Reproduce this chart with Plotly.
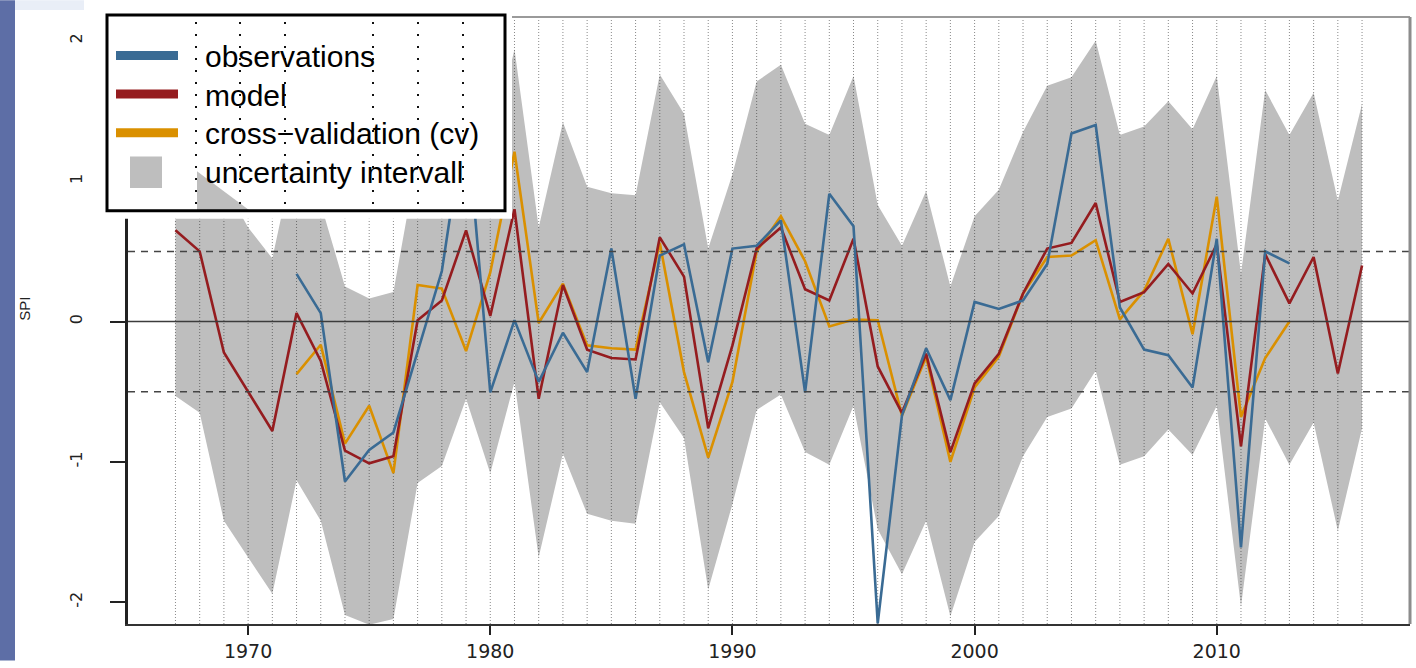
import plotly.graph_objects as go

# ---------------- data ----------------
years = list(range(1967, 2017))

model = [0.65, 0.50, -0.22, -0.50, -0.78, 0.06, -0.28, -0.92, -1.01, -0.96,
         0.01, 0.15, 0.65, 0.04, 0.80, -0.55, 0.26, -0.20, -0.26, -0.27,
         0.60, 0.32, -0.76, -0.17, 0.52, 0.67, 0.23, 0.15, 0.59, -0.32,
         -0.65, -0.23, -0.93, -0.44, -0.23, 0.20, 0.52, 0.56, 0.845, 0.14,
         0.21, 0.41, 0.20, 0.55, -0.89, 0.48, 0.13, 0.46, -0.37, 0.40]

observations = [None, None, None, None, None,
                0.34, 0.06, -1.14, -0.915, -0.79, -0.22, 0.36, 1.50, -0.505, 0.01,
                -0.43, -0.08, -0.36, 0.52, -0.55, 0.47, 0.55, -0.29, 0.52, 0.54,
                0.72, -0.505, 0.91, 0.68, -2.15, -0.67, -0.19, -0.56, 0.14, 0.09,
                0.15, 0.41, 1.34, 1.40, 0.10, -0.20, -0.24, -0.47, 0.59, -1.61,
                0.50, 0.415,
                None, None, None]

cross_validation = [None, None, None, None, None,
                    -0.375, -0.165, -0.87, -0.60, -1.08, 0.26, 0.235, -0.21, 0.35, 1.21,
                    -0.01, 0.27, -0.17, -0.19, -0.20, 0.56, -0.36, -0.97, -0.43, 0.50,
                    0.75, 0.43, -0.035, 0.015, 0.01, -0.67, -0.25, -1.00, -0.47, -0.25,
                    0.20, 0.46, 0.47, 0.58, 0.015, 0.22, 0.59, -0.09, 0.89, -0.68,
                    -0.26, 0.00,
                    None, None, None]

upper = [1.83, 1.65, 0.98, 0.67, 0.45, 1.25, 0.84, 0.25, 0.165, 0.21,
         1.17, 1.32, 1.85, 1.20, 1.94, 0.67, 1.42, 0.96, 0.915, 0.90,
         1.76, 1.48, 0.52, 1.05, 1.71, 1.83, 1.41, 1.33, 1.75, 0.83,
         0.54, 0.93, 0.25, 0.75, 0.94, 1.35, 1.68, 1.74, 2.00, 1.33,
         1.39, 1.57, 1.37, 1.75, 0.34, 1.65, 1.33, 1.63, 0.86, 1.55]

lower = [-0.53, -0.65, -1.42, -1.68, -1.94, -1.13, -1.42, -2.09, -2.16, -2.12,
         -1.15, -1.03, -0.55, -1.08, -0.43, -1.68, -0.94, -1.37, -1.42, -1.44,
         -0.575, -0.83, -1.91, -1.30, -0.63, -0.52, -0.93, -1.02, -0.60, -1.48,
         -1.80, -1.42, -2.10, -1.57, -1.385, -0.96, -0.68, -0.62, -0.35, -1.02,
         -0.96, -0.77, -0.95, -0.60, -2.03, -0.69, -1.02, -0.72, -1.49, -0.76]

x_ticks = [1970, 1980, 1990, 2000, 2010]
y_ticks = [-2, -1, 0, 1, 2]
y_ticktext = ["-2", "-1", "0", "1", "2"]
ref_levels = [-0.5, 0.5]

legend_labels = ["observations", "model", "cross\u2212validation (cv)", "uncertainty intervall"]

# ---------------- style ----------------
C_OBS = "#3A6B94"
C_MOD = "#951C1F"
C_CV = "#DA9000"
C_BAND = "#BEBEBE"

W, H = 1416, 668
L, R, T, B = 128, 1410, 17, 631
X_RANGE = [1965.04, 2017.98]
Y_RANGE = [-2.155, 2.17]


def px(x):
    return (x - L) / (R - L)


def py(y):
    return (B - y) / (B - T)


fig = go.Figure()

# uncertainty band
fig.add_trace(go.Scatter(x=years, y=upper, mode="lines", line=dict(width=0),
                         hoverinfo="skip", showlegend=False))
fig.add_trace(go.Scatter(x=years, y=lower, mode="lines", line=dict(width=0),
                         fill="tonexty", fillcolor=C_BAND, showlegend=False))

# vertical dotted year lines
vx, vy = [], []
for yr in years:
    vx += [yr, yr, None]
    vy += [Y_RANGE[0], Y_RANGE[1], None]
fig.add_trace(go.Scatter(x=vx, y=vy, mode="lines",
                         line=dict(color="rgba(40,40,40,0.55)", width=1, dash="1px,2px"),
                         hoverinfo="skip", showlegend=False))

# series
fig.add_trace(go.Scatter(x=years, y=cross_validation, mode="lines",
                         line=dict(color=C_CV, width=2.6), name=legend_labels[2],
                         showlegend=False))
fig.add_trace(go.Scatter(x=years, y=model, mode="lines",
                         line=dict(color=C_MOD, width=2.6), name=legend_labels[1],
                         showlegend=False))
fig.add_trace(go.Scatter(x=years, y=observations, mode="lines",
                         line=dict(color=C_OBS, width=2.6), name=legend_labels[0],
                         showlegend=False))

shapes = []
# reference lines
shapes.append(dict(type="line", xref="paper", yref="y", x0=0, x1=1, y0=0, y1=0,
                   line=dict(color="#3c3c3c", width=1.6), layer="above"))
for lv in ref_levels:
    shapes.append(dict(type="line", xref="paper", yref="y", x0=0, x1=1, y0=lv, y1=lv,
                       line=dict(color="#444444", width=1.5, dash="7px,6px"), layer="above"))
# box top and right
shapes.append(dict(type="line", xref="paper", yref="paper", x0=0, x1=1, y0=1, y1=1,
                   line=dict(color="#9a9a9a", width=2), layer="above"))
shapes.append(dict(type="line", xref="paper", yref="paper", x0=1, x1=1, y0=0, y1=1,
                   line=dict(color="#8c8c8c", width=3), layer="above"))
# slide background strip at left
shapes.append(dict(type="rect", xref="paper", yref="paper", x0=px(0), x1=px(15),
                   y0=py(668), y1=py(0), fillcolor="#5d6ea6", line=dict(width=0), layer="above"))
shapes.append(dict(type="rect", xref="paper", yref="paper", x0=px(15), x1=px(84),
                   y0=py(10), y1=py(0), fillcolor="#e9eef7", line=dict(width=0), layer="above"))
# legend background
shapes.append(dict(type="rect", xref="paper", yref="paper", x0=px(100), x1=px(512),
                   y0=py(221), y1=py(10), fillcolor="white", line=dict(width=0), layer="above"))
shapes.append(dict(type="path", xref="paper", yref="paper",
                   path="M %f,%f L %f,%f L %f,%f Z" % (px(197), py(173), px(250), py(213), px(197), py(213)),
                   fillcolor=C_BAND, line=dict(width=0), layer="above"))
for lx in [196, 240, 285, 373, 418, 463]:
    shapes.append(dict(type="line", xref="paper", yref="paper", x0=px(lx), x1=px(lx),
                       y0=py(22), y1=py(212),
                       line=dict(color="#111111", width=2, dash="2px,10px"), layer="above"))
shapes.append(dict(type="rect", xref="paper", yref="paper", x0=px(107), x1=px(505),
                   y0=py(213), y1=py(15), line=dict(color="black", width=3), layer="above"))
for col, yy in [(C_OBS, 56), (C_MOD, 95), (C_CV, 134)]:
    shapes.append(dict(type="line", xref="paper", yref="paper", x0=px(116), x1=px(178),
                       y0=py(yy), y1=py(yy), line=dict(color=col, width=9), layer="above"))
shapes.append(dict(type="rect", xref="paper", yref="paper", x0=px(130), x1=px(162),
                   y0=py(190), y1=py(158), fillcolor=C_BAND, line=dict(width=0), layer="above"))

annotations = []
for txt, yy in zip(legend_labels, [57, 96, 135, 174]):
    annotations.append(dict(xref="paper", yref="paper", x=px(203), y=py(yy), text=txt,
                            showarrow=False, xanchor="left", yanchor="middle",
                            font=dict(family="Liberation Sans", size=30, color="black")))
annotations.append(dict(xref="paper", yref="paper", x=px(25), y=py(312), text="SPI",
                        showarrow=False, textangle=-90, xanchor="center", yanchor="middle",
                        font=dict(family="Liberation Sans", size=15, color="#222")))

fig.update_layout(
    width=W, height=H,
    margin=dict(l=L, r=W - R, t=T, b=H - B, pad=0),
    paper_bgcolor="white", plot_bgcolor="white",
    showlegend=False,
    shapes=shapes, annotations=annotations,
    xaxis=dict(range=X_RANGE, tickvals=x_ticks, ticks="outside", ticklen=9, tickwidth=1.5,
               tickcolor="#222", showgrid=False, zeroline=False, showline=True,
               linecolor="#333", linewidth=2,
               tickfont=dict(family="DejaVu Sans", size=19, color="#222")),
    yaxis=dict(range=Y_RANGE, tickvals=y_ticks, ticktext=y_ticktext, ticks="outside",
               ticklen=15, tickwidth=1.5, tickcolor="#222", tickangle=-90,
               ticklabelstandoff=22,
               showgrid=False, zeroline=False, showline=True, linecolor="#222", linewidth=2.5,
               tickfont=dict(family="DejaVu Sans", size=16, color="#222")),
)

fig.write_html("out.html",
               config={"displayModeBar": False},
               post_script="document.body.style.margin='0px';document.body.style.overflow='hidden';")
